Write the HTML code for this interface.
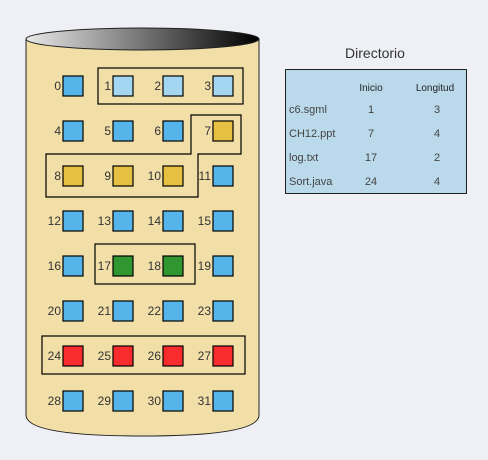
<!DOCTYPE html>
<html><head><meta charset="utf-8"><style>
body{margin:0;background:#eef0f5;}
svg{display:block;font-family:"Liberation Sans",sans-serif;}
</style></head><body>
<svg width="488" height="460" viewBox="0 0 488 460">
<defs><linearGradient id="g" x1="0" x2="1"><stop offset="0" stop-color="#e8e8e8"/><stop offset="1" stop-color="#000"/></linearGradient></defs>
<path d="M26,39 L26,415 Q26,436 142,436 Q259,436 259,415 L259,39 Z" fill="#f2dfa8" stroke="#222" stroke-width="1"/>
<ellipse cx="142.5" cy="39" rx="116.5" ry="11" fill="url(#g)" stroke="#222"/>
<g id="blocks" fill="none" stroke="#000" stroke-width="1.2">
<rect x="98" y="68" width="145" height="36"/>
<polygon points="191,115 241,115 241,154 198,154 198,197 46,197 46,154 191,154"/>
<rect x="95" y="244" width="100" height="40"/>
<rect x="42" y="336" width="203" height="38"/>
</g>
<g id="cells"></g>
<text x="375" y="58" text-anchor="middle" font-size="14" fill="#333">Directorio</text>
<rect x="285.5" y="69.5" width="181" height="124" fill="#bad9ea" stroke="#222"/>
<g font-size="10" fill="#222">
<text x="371" y="91" text-anchor="middle">Inicio</text>
<text x="435" y="91" text-anchor="middle">Longitud</text>
</g>
<g id="rows" font-size="11" fill="#444"></g>
</svg>
<script>
const files=["c6.sgml","CH12.ppt","log.txt","Sort.java"];
const starts=[1,7,17,24];
const lengths=[3,4,2,4];
const colors=["#a4d6f2","#e6c040","#30962f","#f82c2c"];
const free="#55b4ea";
const NS="http://www.w3.org/2000/svg";
const cells=document.getElementById('cells');
for(let i=0;i<32;i++){
  const c=i%4,r=Math.floor(i/4);
  const x=63+c*50,y=76+r*45;
  let fill=free;
  files.forEach((f,k)=>{if(i>=starts[k]&&i<starts[k]+lengths[k])fill=colors[k];});
  const rc=document.createElementNS(NS,'rect');
  rc.setAttribute('x',x);rc.setAttribute('y',y);rc.setAttribute('width',20);rc.setAttribute('height',20);
  rc.setAttribute('fill',fill);rc.setAttribute('stroke','#000');rc.setAttribute('stroke-width','1.2');
  
  
  cells.appendChild(rc);
  const t=document.createElementNS(NS,'text');
  t.setAttribute('x',x-2);t.setAttribute('y',y+14);t.setAttribute('text-anchor','end');
  t.setAttribute('font-size','12');t.setAttribute('fill','#333');t.textContent=i;
  
  
  cells.appendChild(t);
}
const rows=document.getElementById('rows');
files.forEach((f,k)=>{
  const y=113+k*24;
  [[f,289,'start'],[starts[k],371,'middle'],[lengths[k],437,'middle']].forEach((v,j)=>{
    const t=document.createElementNS(NS,'text');
    t.setAttribute('x',v[1]);t.setAttribute('y',y);t.setAttribute('text-anchor',v[2]);t.textContent=v[0];
    
    
    rows.appendChild(t);
  });
});
</script>
</body></html>
